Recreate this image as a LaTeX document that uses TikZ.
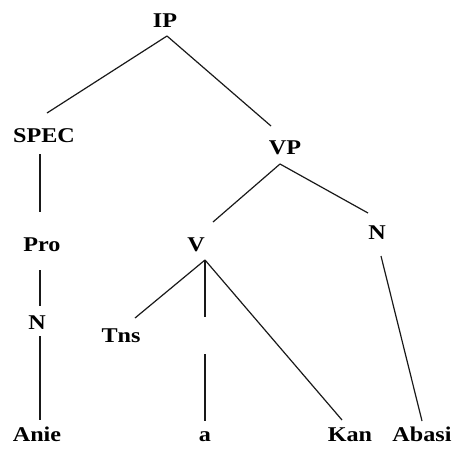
\documentclass[tikz,border=0pt]{standalone}
\usepackage{fontspec}
\setmainfont{Liberation Serif}[FakeStretch=1.15]
\usetikzlibrary{calc}
\begin{document}
\begin{tikzpicture}
		[x=1pt,y=-1pt,
		 cat/.style={font=\fontsize{21}{25}\selectfont\bfseries,anchor=base,inner sep=0pt},
		 branch/.style={line width=1.2pt,black!90}]
		\useasboundingbox (0,0) rectangle (463,450);

		% draw the category labels
		\node[cat] (ip) at (165,27) {IP};
		\node[cat] (spec) at (44,142) {SPEC};
		\node[cat] (vp) at (285,154) {VP};
		\node[cat] (pro) at (42,251) {Pro};
		\node[cat] (v) at (196,251) {V};
		\node[cat] (nr) at (377,239) {N};
		\node[cat] (nl) at (37,329) {N};
		\node[cat] (tns) at (121,342) {Tns};

		% draw the words at the bottom
		\node[cat] (anie) at (37,441) {Anie};
		\node[cat] (a) at (205,441) {a};
		\node[cat] (kan) at (350,441) {Kan};
		\node[cat] (abasi) at (422,441) {Abasi};

		% the branch down to a is broken
		\coordinate (vcut) at (205,317);
		\coordinate (acut) at (205,354);

		%draw the branches
		\draw [branch] ($(ip.base)+(2,9)$) -- ($(spec.base)+(3,-29)$);
		\draw [branch] ($(ip.base)+(2,9)$) -- ($(vp.base)+(-14,-28)$);
		\draw [branch] ($(spec.base)+(-4,12)$) -- ($(pro.base)+(-2,-39)$);
		\draw [branch] ($(pro.base)+(-2,19)$) -- ($(nl.base)+(3,-23)$);
		\draw [branch] ($(nl.base)+(3,7)$) -- ($(anie.base)+(3,-21)$);
		\draw [branch] ($(vp.base)+(-5,10)$) -- ($(v.base)+(17,-29)$);
		\draw [branch] ($(vp.base)+(-5,10)$) -- ($(nr.base)+(-9,-26)$);
		\draw [branch] ($(v.base)+(9,9)$) -- ($(tns.base)+(14,-24)$);
		\draw [branch] ($(v.base)+(9,9)$) -- (vcut);
		\draw [branch] (acut) -- ($(a.base)+(0,-20)$);
		\draw [branch] ($(v.base)+(9,9)$) -- ($(kan.base)+(-8,-21)$);
		\draw [branch] ($(nr.base)+(4,17)$) -- ($(abasi.base)+(0,-20)$);
	\end{tikzpicture}
\end{document}
